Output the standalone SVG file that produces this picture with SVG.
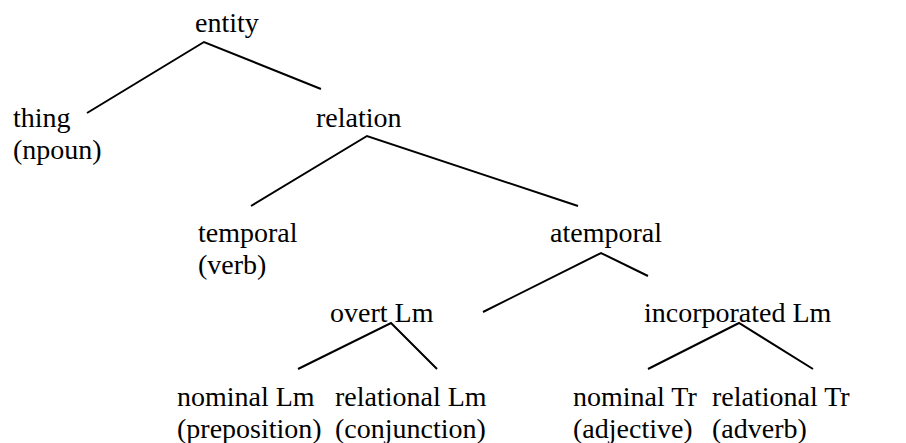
<svg xmlns="http://www.w3.org/2000/svg" width="906" height="443" viewBox="0 0 906 443">
  <style>
    text { font-family: "Liberation Serif", "Times New Roman", serif; font-size: 28px; fill: #000; }
    .edge { stroke: #000; stroke-width: 2; fill: none; }
  </style>
  <rect width="906" height="443" fill="#fff"/>
  <g id="connectors">
    <polyline class="edge" points="87,113 204,42 321,89"/>
    <polyline class="edge" points="251,206 367,136 578,206"/>
    <polyline class="edge" points="483,312 601,253 648,276"/>
    <polyline class="edge" points="298,369 391,323 437,369"/>
    <polyline class="edge" points="648,369 739,323 813,369"/>
  </g>
  <g id="entity"><text x="195" y="32">entity</text></g>
  <g id="thing"><text x="13" y="127">thing</text><text x="13" y="159">(npoun)</text></g>
  <g id="relation"><text x="316" y="127">relation</text></g>
  <g id="temporal"><text x="198" y="242">temporal</text><text x="198" y="274">(verb)</text></g>
  <g id="atemporal"><text x="550" y="242">atemporal</text></g>
  <g id="overt-lm"><text x="330" y="322">overt Lm</text></g>
  <g id="incorporated-lm"><text x="644" y="322">incorporated Lm</text></g>
  <g id="nominal-lm"><text x="177" y="406">nominal Lm</text><text x="177" y="438">(preposition)</text></g>
  <g id="relational-lm"><text x="335" y="406">relational Lm</text><text x="335" y="438">(conjunction)</text></g>
  <g id="nominal-tr"><text x="573" y="406">nominal Tr</text><text x="573" y="438">(adjective)</text></g>
  <g id="relational-tr"><text x="712" y="406">relational Tr</text><text x="712" y="438">(adverb)</text></g>
</svg>
